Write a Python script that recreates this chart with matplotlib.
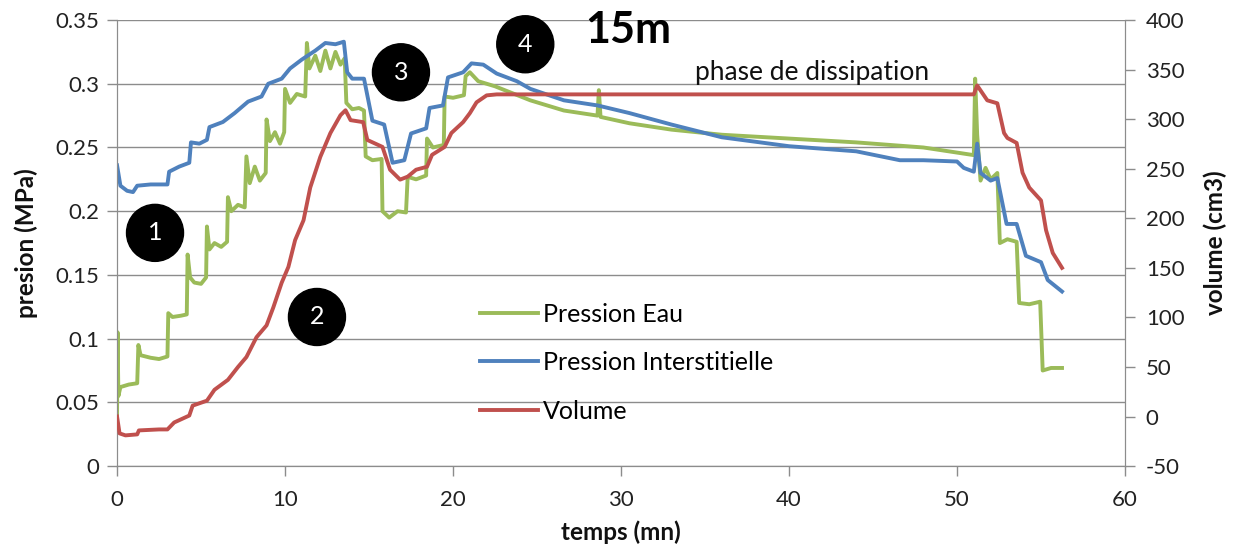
import matplotlib
matplotlib.use("Agg")
import matplotlib.pyplot as plt

plt.rcParams['font.family'] = ['Lato', 'DejaVu Sans']
plt.rcParams['axes.unicode_minus'] = False

# ---------------- data ----------------
green_t = [0, 0.03, 0.08, 0.2, 0.7, 1.2, 1.27, 1.4, 2.0, 2.5, 3.0, 3.05, 3.3, 3.8, 4.15, 4.2, 4.35, 4.6, 5.0, 5.3,
           5.35, 5.5, 5.8, 6.2, 6.55, 6.6, 6.8, 7.2, 7.6, 7.7, 7.9, 8.2, 8.5, 8.85, 8.9, 9.1, 9.4, 9.7, 9.95,
           10.0, 10.3, 10.7, 11.2, 11.3, 11.45, 11.8, 12.1, 12.4, 12.7, 13.0, 13.3, 13.55, 13.65, 14.0, 14.4,
           14.7, 14.8, 15.2, 15.75, 15.8, 16.2, 16.7, 17.2, 17.3, 17.8, 18.4, 18.45, 18.8, 19.45, 19.5, 20.0,
           20.65, 20.75, 21.0, 21.5, 22.5, 24.6, 26.6, 28.6, 28.68, 28.78, 30.5, 33, 36, 40, 44, 48, 51.0,
           51.08, 51.2, 51.4, 51.7, 52.0, 52.4, 52.55, 53.0, 53.55, 53.7, 54.3, 54.95, 55.1, 55.6, 56.25]
green_p = [0.040, 0.105, 0.055, 0.062, 0.064, 0.065, 0.095, 0.087, 0.085, 0.084, 0.086, 0.120, 0.117, 0.118, 0.119,
           0.166, 0.148, 0.144, 0.143, 0.148, 0.188, 0.170, 0.175, 0.172, 0.176, 0.211, 0.200, 0.205, 0.203,
           0.243, 0.222, 0.235, 0.224, 0.230, 0.272, 0.255, 0.262, 0.253, 0.262, 0.296, 0.285, 0.292, 0.290,
           0.332, 0.312, 0.322, 0.310, 0.326, 0.312, 0.325, 0.315, 0.320, 0.285, 0.280, 0.281, 0.279, 0.243,
           0.240, 0.241, 0.200, 0.195, 0.200, 0.199, 0.227, 0.225, 0.228, 0.257, 0.250, 0.252, 0.290, 0.289,
           0.291, 0.306, 0.309, 0.302, 0.298, 0.287, 0.279, 0.275, 0.295, 0.274, 0.269, 0.264, 0.260, 0.257,
           0.254, 0.250, 0.244, 0.304, 0.260, 0.224, 0.234, 0.225, 0.230, 0.175, 0.178, 0.176, 0.128, 0.127,
           0.129, 0.075, 0.077, 0.077]

blue_t = [0, 0.2, 0.6, 0.95, 1.2, 2.0, 3.0, 3.1, 3.7, 4.3, 4.4, 4.9, 5.35, 5.5, 6.3, 7.0, 7.8, 8.6, 9.0, 9.8,
          10.3, 11.0, 11.8, 12.4, 13.0, 13.5, 13.7, 14.0, 14.7, 15.2, 15.9, 16.4, 17.1, 17.5, 18.4, 18.6,
          19.4, 19.7, 20.6, 21.1, 21.8, 22.6, 23.8, 24.6, 26.6, 28.6, 30.5, 33, 36, 40, 44, 46.6, 48, 50.0,
          50.4, 51.0, 51.2, 51.4, 52.0, 52.4, 52.95, 53.55, 54.1, 55.0, 55.4, 56.25]
blue_p = [0.236, 0.220, 0.216, 0.215, 0.220, 0.221, 0.221, 0.231, 0.235, 0.238, 0.254, 0.253, 0.256, 0.266,
          0.270, 0.277, 0.286, 0.290, 0.300, 0.304, 0.312, 0.319, 0.326, 0.332, 0.331, 0.333, 0.309, 0.304,
          0.304, 0.271, 0.268, 0.238, 0.240, 0.261, 0.265, 0.281, 0.283, 0.305, 0.309, 0.316, 0.315, 0.308,
          0.302, 0.296, 0.287, 0.283, 0.277, 0.268, 0.258, 0.251, 0.247, 0.240, 0.240, 0.239, 0.234, 0.231,
          0.253, 0.230, 0.224, 0.226, 0.190, 0.190, 0.165, 0.160, 0.146, 0.137]

red_t = [0, 0.15, 0.5, 1.2, 1.3, 2.5, 3.0, 3.4, 4.3, 4.5, 5.35, 5.8, 6.6, 7.2, 7.7, 8.3, 8.9, 9.3, 9.8, 10.2,
         10.6, 11.1, 11.5, 12.1, 12.7, 13.3, 13.6, 13.9, 14.65, 14.9, 15.8, 16.25, 16.85, 17.3, 17.8, 18.45,
         18.75, 19.5, 19.9, 20.6, 21.0, 21.4, 22.0, 22.6, 51.0, 51.2, 51.8, 52.4, 52.8, 53.0, 53.55, 53.9,
         54.3, 55.0, 55.3, 55.7, 56.25]
red_v = [0, -17, -19, -18, -14, -13, -13, -6, 1, 11, 16, 27, 37, 50, 60, 80, 92, 110, 135, 151, 178, 198, 231,
         262, 286, 304, 309, 299, 297, 279, 272, 249, 239, 242, 249, 252, 264, 272, 286, 297, 306, 317, 324,
         325, 325, 334, 319, 316, 286, 281, 276, 246, 231, 218, 188, 165, 150]

series_labels = ["Pression Eau", "Pression Interstitielle", "Volume"]
colors = ["#9BBB59", "#4F81BD", "#C0504D"]

# ---------------- figure ----------------
fig = plt.figure(figsize=(12.36, 5.49), dpi=100)
ax = fig.add_axes([0.0947, 0.151, 0.8155, 0.8125])
ax2 = ax.twinx()

lw = 2.8
l1, = ax.plot(green_t, green_p, color=colors[0], lw=lw, solid_joinstyle='round', zorder=3)
l2, = ax.plot(blue_t, blue_p, color=colors[1], lw=lw, solid_joinstyle='round', zorder=3)
l3, = ax2.plot(red_t, red_v, color=colors[2], lw=lw, solid_joinstyle='round', zorder=3)

ax.set_xlim(0, 60)
ax.set_ylim(0, 0.35)
ax2.set_ylim(-50, 400)
ax.set_xticks(range(0, 61, 10))
ax.set_yticks([0, 0.05, 0.1, 0.15, 0.2, 0.25, 0.3, 0.35])
ax.set_yticklabels(["0", "0.05", "0.1", "0.15", "0.2", "0.25", "0.3", "0.35"])
ax2.set_yticks(range(-50, 401, 50))

gc = "#8C8C8C"
ax.grid(axis='y', color=gc, lw=1.0)
ax.set_axisbelow(True)
for a in (ax, ax2):
    a.spines['top'].set_visible(False)
    for s in ('left', 'right', 'bottom'):
        a.spines[s].set_color(gc)
    a.tick_params(colors=gc, labelcolor='#222222', length=7, width=1, labelsize=16, direction='out', pad=6)
ax.tick_params(axis='x', pad=10)
ax2.tick_params(axis='y', pad=8)

ax.set_xlabel("temps (mn)", fontsize=17.5, fontweight='bold', color='#111111', labelpad=8)
ax.set_ylabel("presion (MPa)", fontsize=17.5, fontweight='bold', color='#111111', labelpad=12)
ax2.set_ylabel("volume (cm3)", fontsize=17.5, fontweight='bold', color='#111111', labelpad=14)

# annotations
circ = dict(boxstyle='circle,pad=0.68', fc='black', ec='black')
for txt, (tx, ty) in zip(["1", "2", "3", "4"], [(2.26, 0.183), (11.9, 0.117), (16.9, 0.309), (24.3, 0.331)]):
    ax.text(tx, ty, txt, color='white', fontsize=18, ha='center', va='center', bbox=circ, zorder=5)
ax.text(30.4, 0.342, "15m", fontsize=31, fontweight='bold', ha='center', va='center', color='black')
ax.text(41.4, 0.309, "phase de dissipation", fontsize=19, ha='center', va='center', color='#111111')

leg = ax.legend([l1, l2, l3], series_labels, loc='upper left', bbox_to_anchor=(0.338, 0.417),
                frameon=False, fontsize=18, handlelength=2.3, handletextpad=0.2, labelspacing=1.02)

fig.savefig("out.png", dpi=100)
